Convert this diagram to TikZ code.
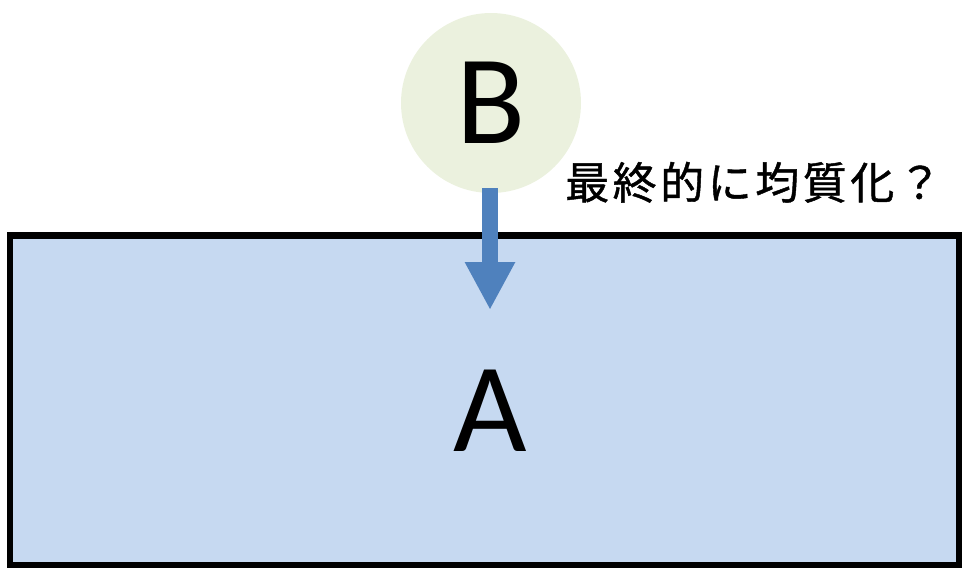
\documentclass[tikz,border=0pt]{standalone}
\usepackage{fontspec}
\setmainfont{Carlito}
\newfontfamily\jpfont[LetterSpace=8,FakeBold=1]{Noto Sans CJK JP}
\usetikzlibrary{arrows.meta}
\definecolor{boxfill}{HTML}{C6D9F1}
\definecolor{circfill}{HTML}{EBF1DE}
\definecolor{arrowblue}{HTML}{4F81BD}
\tikzset{
  tank/.style={draw=black, line width=6.5pt, fill=boxfill, rectangle, inner sep=0pt},
  ball/.style={circle, fill=circfill, minimum size=180pt, inner sep=0pt, font=\fontsize{127}{127}\selectfont},
  bigletter/.style={inner sep=0pt, font=\fontsize{127}{127}\selectfont},
  flow/.style={draw=arrowblue, line width=16pt, -{Triangle[width=47pt,length=48pt]}},
  note/.style={inner sep=0pt, font=\jpfont\fontsize{44}{44}\selectfont}
}
\begin{document}
\begin{tikzpicture}[x=1pt,y=-1pt]
\useasboundingbox (0,0) rectangle (962,568);
\node[tank, minimum width=949pt, minimum height=329.5pt] (A) at (484.5,400.25) {};
\node[bigletter] (Alabel) at (490,411) {A};
\node[ball] (B) at (491,103) {B};
\coordinate (tip) at (490,310);
\draw[flow] ([yshift=5pt]B.south -| tip) -- (tip);
\node[note, anchor=base west] (note) at (565,199) {最終的に均質化？};
\end{tikzpicture}
\end{document}
